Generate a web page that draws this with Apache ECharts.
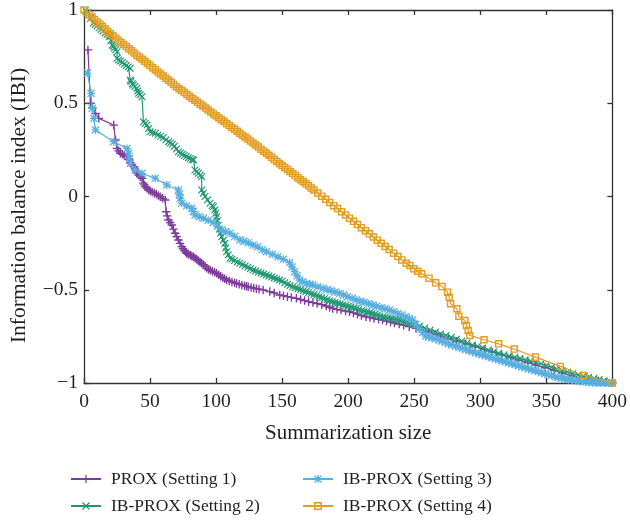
<!DOCTYPE html>
<html>
<head>
<meta charset="utf-8">
<script src="https://cdn.jsdelivr.net/npm/echarts/dist/echarts.min.js"></script>
<style>html,body{margin:0;padding:0;background:#fff}#c{width:630px;height:523px}</style>
</head>
<body>
<div id="c"></div>
<script>
const seriesNames = ['PROX (Setting 1)', 'IB-PROX (Setting 2)', 'IB-PROX (Setting 3)', 'IB-PROX (Setting 4)'];
const xTicks = [0, 50, 100, 150, 200, 250, 300, 350, 400];
const yTicks = [-1, -0.5, 0, 0.5, 1];

const setting1 = [[3,0.786],[4.9,0.500],[6.4,0.475],[8.7,0.446],[11.2,0.419],[22.5,0.383],[23.8,0.303],[25,0.258],[26.2,0.245],[27.5,0.232],[29,0.226],[30.5,0.220],[32.6,0.213],[33.8,0.198],[35.1,0.182],[36.3,0.171],[37.5,0.160],[38.6,0.148],[39.6,0.137],[40.5,0.126],[41.3,0.115],[42.6,0.106],[43.9,0.098],[44.9,0.072],[45.7,0.062],[46.4,0.053],[47.6,0.044],[48.9,0.035],[50.2,0.030],[51.6,0.024],[53.2,0.018],[54.7,0.013],[56.2,0.006],[57.7,-0.001],[59.6,-0.010],[61.5,-0.019],[62.2,-0.082],[63,-0.104],[63.9,-0.126],[65.2,-0.140],[66.5,-0.153],[67.7,-0.175],[69,-0.197],[70.2,-0.215],[71.5,-0.233],[72.7,-0.251],[74,-0.269],[75,-0.280],[76,-0.290],[77,-0.298],[77.8,-0.305],[79,-0.309],[80.5,-0.315],[81.6,-0.319],[82.8,-0.323],[84,-0.330],[85.3,-0.337],[86.6,-0.344],[87.8,-0.351],[89,-0.358],[90.5,-0.366],[91.7,-0.375],[92.9,-0.385],[94.3,-0.390],[95.7,-0.396],[97.2,-0.401],[98.8,-0.406],[100.4,-0.412],[102,-0.420],[103.5,-0.428],[105,-0.435],[106.5,-0.441],[108,-0.448],[110,-0.453],[112,-0.458],[114,-0.463],[115.5,-0.466],[117.5,-0.470],[119.5,-0.474],[121.5,-0.478],[123,-0.481],[124.3,-0.484],[126.5,-0.488],[128.5,-0.491],[130.5,-0.494],[132.5,-0.497],[135.6,-0.501],[140.6,-0.510],[144,-0.517],[148.2,-0.528],[151,-0.532],[154,-0.537],[157,-0.541],[160.8,-0.546],[164,-0.552],[167,-0.558],[170,-0.564],[173.3,-0.569],[176.5,-0.574],[180,-0.580],[183.4,-0.587],[186,-0.594],[188.3,-0.600],[191.5,-0.605],[194.5,-0.609],[198,-0.614],[201,-0.618],[204,-0.624],[207,-0.631],[210,-0.638],[213.5,-0.645],[216.5,-0.649],[219.5,-0.654],[223,-0.658],[226,-0.662],[229,-0.668],[232,-0.673],[235,-0.678],[238.6,-0.684],[242,-0.690],[246.2,-0.698],[251.3,-0.707],[256,-0.717],[261,-0.728],[266,-0.740],[270,-0.750],[276,-0.763],[282,-0.776],[289,-0.791],[296,-0.805],[303,-0.820],[309,-0.834],[316,-0.849],[323,-0.864],[329,-0.877],[336,-0.891],[342,-0.904],[349,-0.917],[356,-0.932],[362,-0.946],[369,-0.962],[376,-0.973],[382,-0.981],[389.5,-0.989],[395,-0.995],[400,-1.0]];

const setting2 = [[1,1.0],[3,0.985],[5,0.955],[7,0.93],[8.5,0.922],[10,0.916],[11.5,0.905],[13,0.897],[14.5,0.888],[16,0.877],[17.5,0.870],[19,0.864],[19.5,0.857],[20.3,0.835],[21.3,0.812],[22.2,0.805],[23,0.796],[24,0.787],[25,0.776],[25,0.741],[26.2,0.732],[27.5,0.726],[29,0.718],[30.5,0.710],[32,0.702],[33.5,0.695],[35,0.687],[35.1,0.625],[35.5,0.616],[36.5,0.605],[37.3,0.598],[38.5,0.590],[40,0.580],[40.7,0.566],[41.3,0.553],[42.5,0.545],[43.9,0.535],[45,0.401],[46.3,0.392],[47.7,0.383],[49,0.365],[50,0.347],[52,0.343],[54,0.339],[56,0.330],[58,0.323],[60,0.316],[62,0.304],[64,0.294],[65.5,0.287],[67,0.280],[68.5,0.270],[70,0.255],[71.5,0.240],[73,0.233],[74.5,0.226],[76,0.220],[77.5,0.214],[79,0.208],[80.5,0.204],[82,0.199],[83,0.196],[84,0.142],[85.3,0.133],[86.6,0.124],[88,0.115],[89.1,0.106],[89.1,0.035],[90.3,0.018],[91.6,0.0],[93.5,-0.018],[95.4,-0.036],[97,-0.048],[98,-0.055],[99.1,-0.072],[99.8,-0.09],[100.4,-0.108],[101,-0.13],[101.6,-0.153],[102.5,-0.175],[103.3,-0.196],[104.2,-0.216],[105.5,-0.234],[106.7,-0.251],[107.3,-0.275],[108,-0.296],[109.2,-0.313],[110.5,-0.331],[112,-0.336],[114,-0.343],[116,-0.351],[118,-0.358],[120,-0.365],[122,-0.372],[124,-0.380],[126,-0.387],[128,-0.394],[130,-0.399],[132,-0.405],[134,-0.410],[136,-0.416],[138,-0.421],[140,-0.426],[142,-0.432],[144,-0.437],[146,-0.443],[148,-0.448],[150,-0.453],[152,-0.462],[154,-0.470],[156,-0.477],[158,-0.484],[160,-0.489],[162,-0.494],[164,-0.499],[166,-0.505],[168,-0.510],[170,-0.515],[172,-0.521],[174,-0.526],[176,-0.531],[178,-0.537],[180,-0.542],[182,-0.548],[184,-0.553],[186,-0.559],[188,-0.564],[190,-0.568],[192,-0.572],[194,-0.576],[196,-0.581],[198,-0.585],[200,-0.589],[202,-0.593],[204,-0.597],[206,-0.601],[208,-0.606],[210,-0.611],[212,-0.615],[214,-0.619],[216,-0.623],[218,-0.627],[220,-0.632],[222,-0.636],[224,-0.641],[226,-0.645],[228,-0.648],[230,-0.651],[232,-0.653],[234,-0.655],[236,-0.658],[238,-0.661],[240,-0.665],[242,-0.669],[244,-0.673],[246,-0.677],[248,-0.680],[250,-0.684],[254,-0.695],[258,-0.705],[262,-0.716],[266,-0.727],[270,-0.737],[274,-0.745],[278,-0.755],[282,-0.765],[286,-0.775],[290,-0.786],[294,-0.797],[298,-0.803],[302,-0.812],[306,-0.823],[310,-0.833],[314,-0.841],[318,-0.849],[322,-0.856],[326,-0.863],[330,-0.869],[334,-0.876],[338,-0.882],[342,-0.889],[346,-0.897],[350,-0.906],[354,-0.916],[358,-0.927],[362,-0.934],[366,-0.941],[370,-0.950],[374,-0.957],[378,-0.964],[382,-0.970],[386,-0.976],[390,-0.981],[394,-0.989],[400,-1.0]];

const setting3 = [[2.6,0.662],[5.4,0.553],[6.2,0.473],[7.4,0.419],[8.7,0.357],[22.5,0.294],[32.6,0.258],[33.8,0.232],[34.5,0.205],[35.1,0.178],[38.8,0.142],[43.9,0.124],[53.9,0.098],[62.7,0.062],[71.5,0.035],[72.2,0.012],[72.8,-0.010],[74,-0.036],[77.8,-0.050],[81.6,-0.063],[82.8,-0.080],[84.1,-0.099],[87.2,-0.108],[90.3,-0.117],[94,-0.128],[97.9,-0.139],[101,-0.160],[104.2,-0.180],[107.3,-0.188],[110.5,-0.197],[114,-0.214],[118,-0.233],[121,-0.240],[124.5,-0.248],[128,-0.260],[131.5,-0.270],[135,-0.285],[138.1,-0.296],[142.5,-0.310],[146.9,-0.323],[151,-0.337],[155.7,-0.354],[157.5,-0.378],[159.5,-0.403],[161.3,-0.425],[163.2,-0.448],[165.5,-0.457],[168.3,-0.466],[171,-0.471],[173.3,-0.475],[177,-0.484],[180.9,-0.492],[184,-0.499],[187,-0.505],[190,-0.512],[193.4,-0.519],[196.5,-0.528],[199.5,-0.537],[203,-0.546],[206,-0.555],[209,-0.561],[212,-0.567],[215.5,-0.575],[218.6,-0.582],[221.5,-0.588],[225,-0.596],[228,-0.602],[231.2,-0.609],[234.5,-0.618],[237.5,-0.627],[240.5,-0.636],[243.8,-0.645],[246.3,-0.654],[248.7,-0.662],[251.2,-0.686],[253.8,-0.710],[256.3,-0.729],[258.8,-0.748],[261,-0.753],[263.5,-0.758],[266,-0.763],[268.8,-0.769],[271,-0.775],[273.5,-0.782],[276,-0.789],[278.5,-0.796],[281.4,-0.802],[284,-0.808],[286.5,-0.814],[289,-0.820],[291.5,-0.826],[293.9,-0.832],[296.5,-0.838],[299,-0.843],[301.5,-0.848],[304,-0.854],[306.5,-0.859],[309,-0.864],[311.5,-0.870],[314,-0.875],[316.5,-0.881],[319.1,-0.886],[321.5,-0.891],[324,-0.897],[326.5,-0.902],[329,-0.908],[331.6,-0.913],[334,-0.918],[336.5,-0.924],[339,-0.929],[341.5,-0.934],[344.2,-0.939],[346.5,-0.944],[349,-0.950],[351.5,-0.955],[354,-0.960],[356.8,-0.966],[359,-0.970],[361.5,-0.974],[364,-0.978],[366.5,-0.981],[369.3,-0.984],[372,-0.987],[375,-0.990],[378,-0.993],[381.9,-0.996],[385,-0.997],[388,-0.998],[391,-0.999],[394,-0.999],[397,-1.0],[400,-1.0]];

const setting4 = [[0,1.000],[2,0.987],[4,0.975],[6,0.962],[8,0.949],[10,0.936],[12,0.924],[14,0.911],[16,0.898],[18,0.885],[20,0.873],[22,0.860],[24,0.849],[26,0.837],[28,0.826],[30,0.815],[32,0.804],[34,0.792],[36,0.781],[38,0.770],[40,0.758],[42,0.747],[44,0.736],[46,0.725],[48,0.713],[50,0.702],[52,0.691],[54,0.680],[56,0.668],[58,0.657],[60,0.646],[62,0.634],[64,0.623],[66,0.612],[68,0.601],[70,0.589],[72,0.578],[74,0.568],[76,0.557],[78,0.547],[80,0.536],[82,0.526],[84,0.516],[86,0.505],[88,0.495],[90,0.485],[92,0.474],[94,0.464],[96,0.453],[98,0.443],[100,0.433],[102,0.422],[104,0.412],[106,0.402],[108,0.391],[110,0.381],[112,0.370],[114,0.360],[116,0.350],[118,0.339],[120,0.329],[122,0.319],[124,0.308],[126,0.298],[128,0.287],[130,0.276],[132,0.265],[134,0.254],[136,0.243],[138,0.232],[140,0.221],[142,0.210],[144,0.199],[146,0.188],[148,0.177],[150,0.166],[152,0.156],[154,0.145],[156,0.134],[158,0.123],[160,0.112],[162,0.101],[164,0.090],[166,0.079],[168,0.068],[170,0.057],[172,0.046],[174,0.035],[177,0.019],[180,0.002],[183,-0.015],[186,-0.032],[189,-0.049],[192,-0.065],[195,-0.082],[198,-0.099],[201,-0.116],[204,-0.133],[207,-0.150],[210,-0.167],[213,-0.183],[216,-0.200],[219,-0.217],[222,-0.234],[225,-0.251],[228,-0.268],[231,-0.284],[234.4,-0.304],[237.6,-0.322],[240.6,-0.340],[243.9,-0.358],[246.7,-0.370],[249.7,-0.388],[252.7,-0.401],[255.7,-0.414],[261.2,-0.438],[266.2,-0.463],[271.0,-0.483],[275.2,-0.513],[276.5,-0.540],[277.5,-0.575],[282.3,-0.602],[283.8,-0.642],[288.3,-0.665],[289.5,-0.692],[290.8,-0.718],[292.1,-0.745],[302.9,-0.768],[313.9,-0.790],[325.7,-0.818],[341.8,-0.861],[360.6,-0.911],[378.6,-0.960],[400,-1.0]];

const colors = ['#7e3d9c', '#1f9872', '#58b0e0', '#e39d22'];
const FONT = 'Liberation Serif';
const TXT = '#231f20';

const plusPath = 'path://M4.2,0H5.8V4.2H10V5.8H5.8V10H4.2V5.8H0V4.2H4.2Z';
const crossPath = 'path://M1.1,0L5,3.9L8.9,0L10,1.1L6.1,5L10,8.9L8.9,10L5,6.1L1.1,10L0,8.9L3.9,5L0,1.1Z';
const starPath = 'path://M4.2,0H5.8V4.2H10V5.8H5.8V10H4.2V5.8H0V4.2H4.2Z M1.1,0L5,3.9L8.9,0L10,1.1L6.1,5L10,8.9L8.9,10L5,6.1L1.1,10L0,8.9L3.9,5L0,1.1Z';
const squarePath = 'path://M0,0H10V10H0Z M1.9,1.9V8.1H8.1V1.9Z';

const minus = v => String(v).replace('-', '\u2212');

const chart = echarts.init(document.getElementById('c'), null, {renderer: 'canvas'});

function mk(i, data, symbol, size) {
  return {
    name: seriesNames[i], type: 'line', data: data,
    symbol: symbol, symbolSize: size, showSymbol: true,
    color: colors[i],
    lineStyle: {color: colors[i], width: 1.2},
    itemStyle: {color: colors[i], borderWidth: 0},
    animation: false, z: 2 + i, clip: true
  };
}

function lg(i, left, top) {
  return {
    data: [seriesNames[i]], orient: 'horizontal', left: left, top: top,
    itemWidth: 30, itemHeight: 10, padding: 0,
    lineStyle: {width: 2},
    textStyle: {fontFamily: FONT, fontSize: 17.5, color: TXT, padding: [0, 0, 0, 5]}
  };
}

const axisLineStyle = {color: '#333', width: 1.3};

chart.setOption({
  animation: false,
  backgroundColor: '#fff',
  grid: {left: 83.5, right: 16.5, top: 10, bottom: 140, containLabel: false},
  xAxis: [{
    type: 'value', min: 0, max: 400, interval: 50,
    name: 'Summarization size', nameLocation: 'middle', nameGap: 40,
    nameTextStyle: {fontFamily: FONT, fontSize: 21, color: TXT},
    axisLine: {show: true, onZero: false, lineStyle: axisLineStyle},
    axisTick: {show: true, inside: true, length: 5, lineStyle: axisLineStyle},
    axisLabel: {fontFamily: FONT, fontSize: 19.5, color: TXT, margin: 9, formatter: minus},
    splitLine: {show: false}
  }, {
    type: 'value', min: 0, max: 400, interval: 50, position: 'top',
    axisLine: {show: true, onZero: false, lineStyle: axisLineStyle},
    axisTick: {show: true, inside: true, length: 5, lineStyle: axisLineStyle},
    axisLabel: {show: false}, splitLine: {show: false}
  }],
  yAxis: [{
    type: 'value', min: -1, max: 1, interval: 0.5,
    name: 'Information balance index (IBI)', nameLocation: 'middle', nameGap: 54, nameRotate: 90,
    nameTextStyle: {fontFamily: FONT, fontSize: 21.5, color: TXT, padding: [0, 18, 0, 0]},
    axisLine: {show: true, onZero: false, lineStyle: axisLineStyle},
    axisTick: {show: true, inside: true, length: 5, lineStyle: axisLineStyle},
    axisLabel: {fontFamily: FONT, fontSize: 19.5, color: TXT, margin: 6, formatter: minus},
    splitLine: {show: false}
  }, {
    type: 'value', min: -1, max: 1, interval: 0.5, position: 'right',
    axisLine: {show: true, onZero: false, lineStyle: axisLineStyle},
    axisTick: {show: true, inside: true, length: 5, lineStyle: axisLineStyle},
    axisLabel: {show: false}, splitLine: {show: false}
  }],
  legend: [lg(0, 70, 470), lg(1, 70, 497), lg(2, 302, 470), lg(3, 302, 497)],
  series: [
    mk(0, setting1, plusPath, 8.5),
    mk(1, setting2, crossPath, 7.5),
    mk(2, setting3, starPath, 8),
    mk(3, setting4, squarePath, 7.5)
  ]
});
</script>
</body>
</html>
